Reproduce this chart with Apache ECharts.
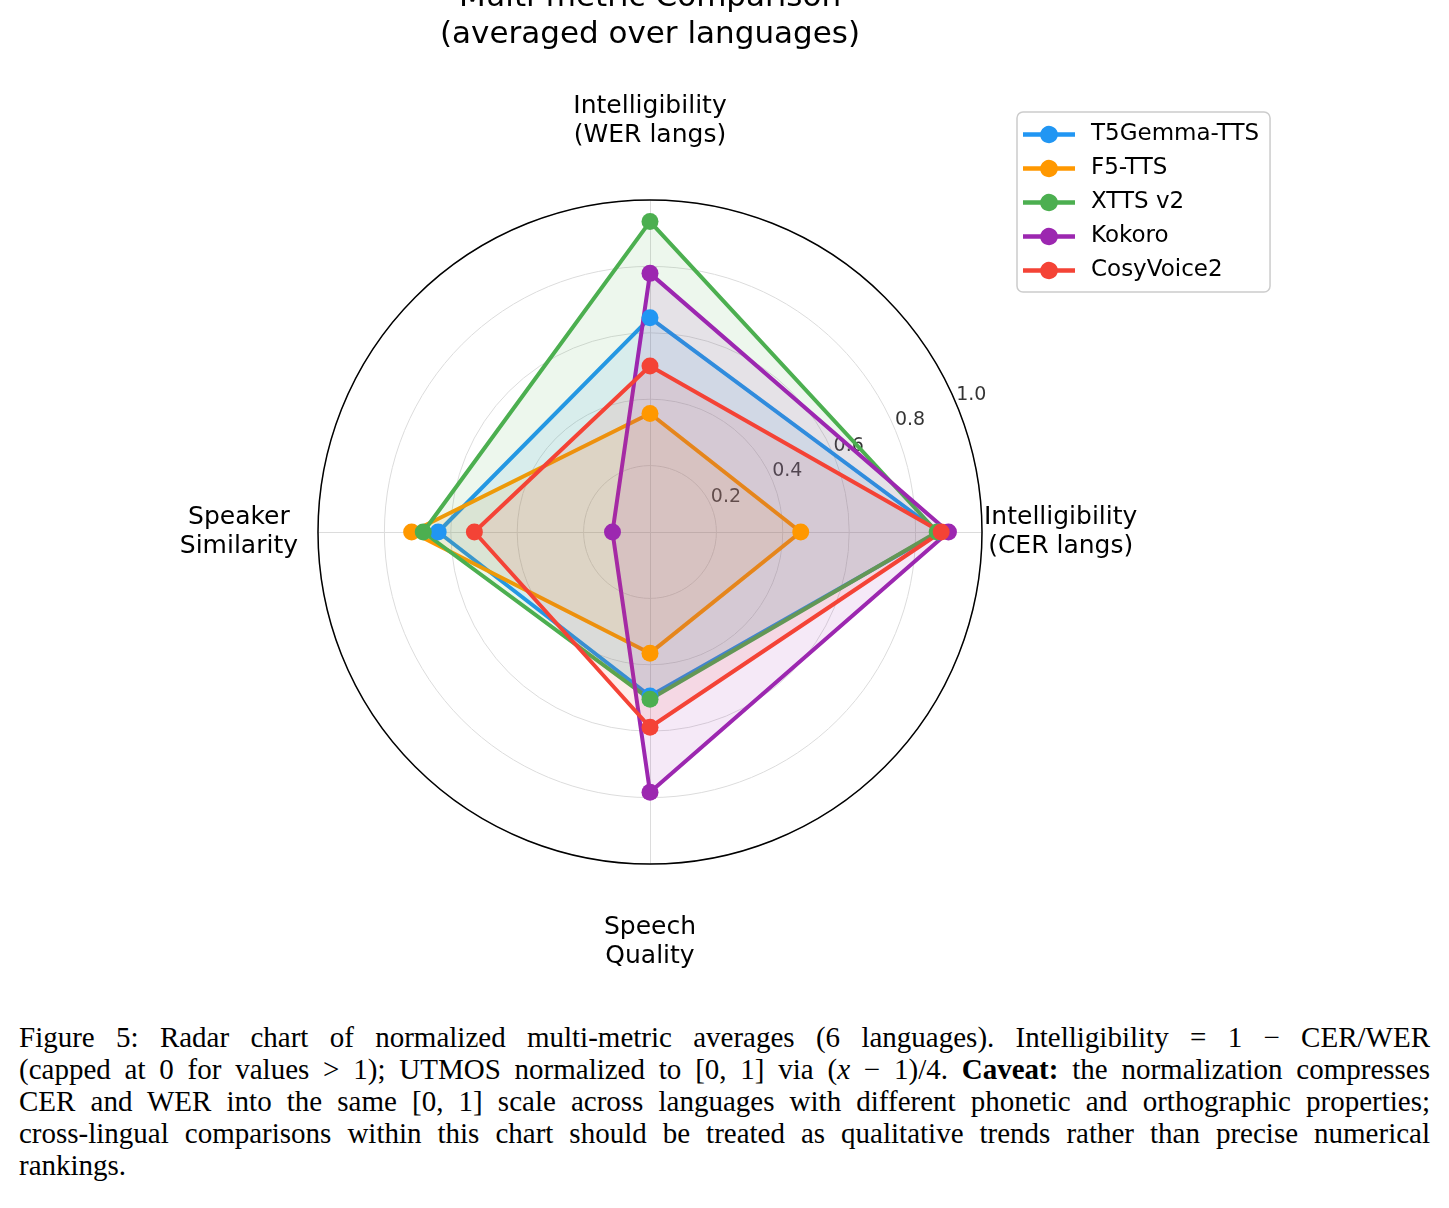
<!DOCTYPE html>
<html>
<head>
<meta charset="utf-8">
<title>Multi-metric Comparison</title>
<script src="https://cdn.jsdelivr.net/npm/echarts@6/dist/echarts.min.js"></script>
<style>
	body { margin: 0; background: #fff; }
	#chart { position: absolute; left: 0; top: 0; width: 1300px; height: 1000px; }
	#caption {
		position: absolute; left: 19px; top: 1021px; width: 1411px;
		font-family: "Liberation Serif", "DejaVu Serif", serif;
		font-size: 29px; line-height: 32px; color: #000;
	}
	#caption .ln { text-align: justify; text-align-last: justify; }
</style>
</head>
<body>
<div id="chart"></div>
<div id="caption">
	<div class="ln">Figure 5: Radar chart of normalized multi-metric averages (6 languages). Intelligibility = 1 − CER/WER</div>
	<div class="ln">(capped at 0 for values &gt; 1); UTMOS normalized to [0, 1] via (<i>x</i> − 1)/4. <b>Caveat:</b> the normalization compresses</div>
	<div class="ln">CER and WER into the same [0, 1] scale across languages with different phonetic and orthographic properties;</div>
	<div class="ln">cross-lingual comparisons within this chart should be treated as qualitative trends rather than precise numerical</div>
	<div>rankings.</div>
</div>
<script>
// -------------------------
// Radar: normalized multi-metric averages
// -------------------------

// Axes (counter-clockwise from the right)
const metricNames = ['Intelligibility\n(CER langs)', 'Intelligibility\n(WER langs)', 'Speaker\nSimilarity', 'Speech\nQuality'];

// Models and their values, same order as metricNames
const modelNames = ['T5Gemma-TTS', 'F5-TTS', 'XTTS v2', 'Kokoro', 'CosyVoice2'];
const t5gemmaValues = [0.870, 0.645, 0.638, 0.494];
const f5Values = [0.454, 0.357, 0.718, 0.365];
const xttsValues = [0.865, 0.935, 0.683, 0.504];
const kokoroValues = [0.899, 0.779, 0.113, 0.784];
const cosyValues = [0.877, 0.500, 0.529, 0.588];
const modelValues = [t5gemmaValues, f5Values, xttsValues, kokoroValues, cosyValues];

// Colors
const colorSets = ['#2196F3', '#FF9800', '#4CAF50', '#9C27B0', '#F44336'];

// Radial tick labels
const radialTicks = [0.2, 0.4, 0.6, 0.8, 1.0];
const radialLabelAngle = 22.5;

const font = 'DejaVu Sans';
const center = [650, 532];
const radius = 332;

// which side each axis name sits on (for the spacing tweaks below)
const nameSide = ['right', 'top', 'left', 'bottom'];

const chart = echarts.init(document.getElementById('chart'));

const option = {
	animation: false,
	title: {
		text: 'Multi-metric Comparison\n(averaged over languages)',
		left: 'center',
		top: -26,
		textStyle: { fontFamily: font, fontSize: 31, fontWeight: 'normal', color: '#000', lineHeight: 37 }
	},
	legend: {
		orient: 'vertical',
		left: 1017,
		top: 112,
		data: modelNames,
		// line with a dot in the middle, like the plotted marks
		icon: 'path://M0 6.8 L17.35 6.8 A9 9 0 0 1 34.65 6.8 L52 6.8 L52 11.2 L34.65 11.2 A9 9 0 0 1 17.35 11.2 L0 11.2 Z',
		itemWidth: 52,
		itemHeight: 18,
		itemGap: 11,
		padding: [11, 11, 10, 6],
		backgroundColor: '#fff',
		borderColor: '#cccccc',
		borderWidth: 1.5,
		borderRadius: 6,
		textStyle: { fontFamily: font, fontSize: 23, color: '#000', lineHeight: 18, padding: [0, 0, 0, 11] }
	},
	polar: { center: center, radius: radius },
	angleAxis: {
		type: 'value', min: 0, max: 360, startAngle: 0, clockwise: false,
		z: 3,
		axisLine: { lineStyle: { color: '#000', width: 1.5 } },
		axisTick: { show: false },
		axisLabel: { show: false },
		splitLine: { show: false }
	},
	radiusAxis: {
		type: 'value', min: 0, max: 1,
		axisLine: { show: false },
		axisTick: { show: false },
		axisLabel: { show: false },
		splitLine: { show: false }
	},
	radar: {
		center: center,
		radius: radius,
		startAngle: 0,
		shape: 'circle',
		splitNumber: 5,
		indicator: metricNames.map(n => ({ name: n, min: 0, max: 1 })),
		axisLine: { lineStyle: { color: '#dcdcdc', width: 1 } },
		splitLine: { lineStyle: { color: '#dcdcdc', width: 1 } },
		splitArea: { show: false },
		axisTick: { show: false },
		axisLabel: { show: false },
		nameGap: 2,
		axisName: {
			color: '#000',
			fontFamily: font,
			fontSize: 25,
			formatter: (name) => {
				const side = nameSide[metricNames.indexOf(name)];
				const key = side === 'left' ? 'l' : 'n';
				const lines = name.split('\n').map(s => `{${key}|${s}}`);
				if (side === 'top') lines.push('{st| }');
				if (side === 'bottom') lines.unshift('{sb| }');
				return lines.join('\n');
			},
			rich: {
				n: { fontFamily: font, fontSize: 25, color: '#000', lineHeight: 29, align: 'center' },
				l: { fontFamily: font, fontSize: 25, color: '#000', lineHeight: 29, align: 'center', padding: [0, 18, 0, 0] },
				st: { fontSize: 10, lineHeight: 48 },
				sb: { fontSize: 10, lineHeight: 47 }
			}
		}
	},
	series: [
		{
			// radial tick labels, drawn under the polygons
			type: 'scatter',
			coordinateSystem: 'polar',
			silent: true,
			z: 1,
			symbolSize: 1,
			itemStyle: { color: 'rgba(0,0,0,0)' },
			data: radialTicks.map(t => [t, radialLabelAngle]),
			label: {
				show: true,
				position: [0, 0],
				align: 'left',
				verticalAlign: 'bottom',
				color: '#000',
				fontFamily: font,
				fontSize: 19,
				formatter: p => p.value[0].toFixed(1)
			}
		},
		{
			type: 'radar',
			z: 2,
			symbol: 'circle',
			symbolSize: 17,
			data: modelNames.map((name, i) => ({
				name: name,
				value: modelValues[i],
				itemStyle: { color: colorSets[i] },
				lineStyle: { color: colorSets[i], width: 4 },
				areaStyle: { color: colorSets[i], opacity: 0.1 }
			}))
		}
	]
};

chart.setOption(option);
</script>
</body>
</html>
